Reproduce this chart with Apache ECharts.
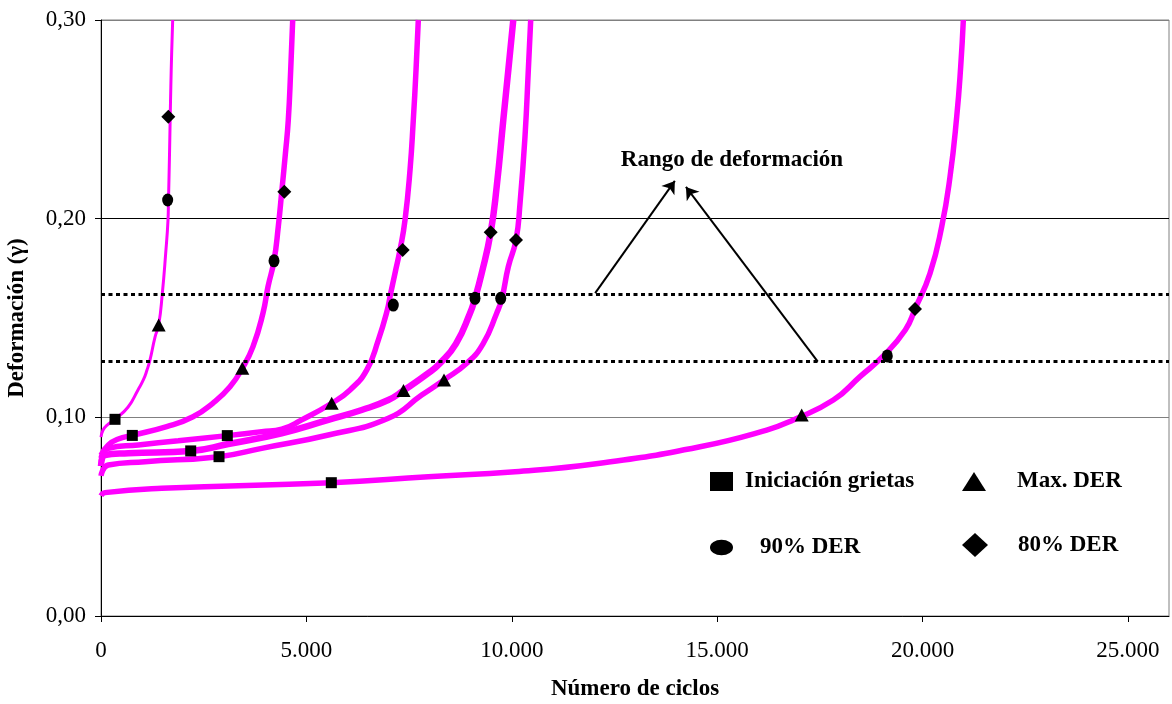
<!DOCTYPE html>
<html>
<head>
<meta charset="utf-8">
<script src="https://cdn.jsdelivr.net/npm/echarts@6/dist/echarts.min.js"></script>
<style>
html,body{margin:0;padding:0;background:#fff;}
#chart{width:1172px;height:704px;}
</style>
</head>
<body>
<div id="chart"></div>
<script>
// ---- data: [número de ciclos, deformación] ----
const curveA = [[0,0.0900],[50,0.0936],[150,0.0961],[340,0.0990],[660,0.1052],[900,0.1138],[1030,0.1188],[1120,0.1238],[1193,0.1289],[1315,0.1404],[1404,0.1465],[1493,0.1624],[1575,0.1826],[1631,0.1993],[1643,0.2094],[1665,0.2295],[1685,0.2513],[1700,0.2664],[1720,0.2832],[1745,0.3000]];
const curveB = [[0,0.0810],[178,0.0861],[421,0.0891],[762,0.0909],[1599,0.0953],[2240,0.1003],[2727,0.1072],[3140,0.1154],[3440,0.1247],[3700,0.1356],[3944,0.1525],[4066,0.1658],[4212,0.1788],[4316,0.1960],[4400,0.2136],[4490,0.2329],[4560,0.2497],[4618,0.2748],[4667,0.3000]];
const curveC = [[0,0.0795],[178,0.0844],[908,0.0861],[1882,0.0882],[3075,0.0908],[3912,0.0928],[4399,0.0940],[4886,0.0987],[5616,0.1071],[6062,0.1138],[6468,0.1238],[6751,0.1389],[6970,0.1540],[7052,0.1624],[7157,0.1725],[7279,0.1842],[7401,0.1993],[7523,0.2245],[7603,0.2497],[7669,0.2748],[7725,0.3000]];
const curveD = [[0,0.0755],[97,0.0810],[665,0.0819],[2184,0.0831],[3099,0.0866],[4399,0.0920],[5534,0.0987],[6347,0.1037],[6994,0.1087],[7364,0.1135],[7968,0.1222],[8253,0.1272],[8640,0.1370],[8983,0.1524],[9105,0.1599],[9268,0.1725],[9487,0.1931],[9633,0.2161],[9794,0.2497],[9916,0.2748],[10037,0.3000]];
const curveE = [[0,0.0705],[178,0.0760],[1071,0.0777],[2873,0.0802],[3912,0.0844],[5534,0.0911],[6994,0.0995],[7807,0.1112],[8350,0.1188],[8903,0.1272],[9300,0.1370],[9633,0.1524],[9760,0.1599],[9916,0.1758],[10103,0.1893],[10201,0.2077],[10322,0.2413],[10403,0.2748],[10461,0.3000]];
const curveF = [[0,0.0605],[97,0.0621],[1478,0.0643],[5607,0.0671],[7968,0.0701],[10079,0.0726],[12148,0.0769],[14583,0.0852],[16206,0.0936],[16854,0.0987],[17828,0.1087],[18478,0.1205],[19045,0.1309],[19580,0.1440],[19817,0.1545],[20182,0.1725],[20467,0.1960],[20669,0.2211],[20832,0.2513],[20929,0.2765],[20993,0.3000]];

const crackInit = [[341,0.0990],[762,0.0909],[3075,0.0908],[2184,0.0831],[2873,0.0802],[5607,0.0671]];
const maxDER    = [[1404,0.1465],[3440,0.1247],[5616,0.1071],[7364,0.1135],[8350,0.1188],[17058,0.1012]];
const der90     = [[1623,0.2094],[4212,0.1788],[7116,0.1565],[9105,0.1599],[9731,0.1599],[19142,0.1309]];
const der80     = [[1639,0.2513],[4462,0.2136],[7345,0.1842],[9487,0.1931],[10103,0.1893],[19817,0.1545]];

const rangeLevels = [0.162, 0.128];
const arrowLines = [[[12030,0.1625],[13970,0.219]], [[17450,0.128],[14240,0.216]]];
const annotationText = 'Rango de deformación';
const annotationPos = [15360, 0.2295];

const xName = 'Número de ciclos';
const yName = 'Deformación (γ)';
const names = ['Iniciación grietas','Max. DER','90% DER','80% DER'];

// ---- styling ----
const FONT = 'Liberation Serif';
const PINK = '#FF00FF';
const ELLIPSE = 'path://M0,10 A10,10 0 1,0 20,10 A10,10 0 1,0 0,10 Z';
const LEGEND_ELLIPSE = 'path://M0,7.5 A11,7.5 0 1,0 22,7.5 A11,7.5 0 1,0 0,7.5 Z';

function fmtX(v){ return String(v).replace(/\B(?=(\d{3})+(?!\d))/g,'.'); }
function fmtY(v){ return v.toFixed(2).replace('.',','); }

function curve(data, width){
  return {type:'line', data:data, showSymbol:false, smooth:0.5, z:2,
    lineStyle:{color:PINK, width:width}, itemStyle:{color:PINK}, silent:true};
}
function markers(name, data, symbol, size){
  return {type:'scatter', name:name, data:data, symbol:symbol, symbolSize:size, z:5,
    itemStyle:{color:'#000', opacity:1}};
}
const legendText = {fontFamily:FONT, fontSize:23, fontWeight:'bold', color:'#000'};
function legendItem(name, icon, left, top, w, h, gap){
  return {data:[name], left:left, top:top, icon:icon, itemWidth:w, itemHeight:h, padding:0,
    selectedMode:false, textStyle:Object.assign({padding:[0,0,0,gap]}, legendText)};
}

const chart = echarts.init(document.getElementById('chart'), null, {renderer:'canvas'});
chart.setOption({
  animation:false,
  backgroundColor:'#fff',
  grid:{left:101, top:20, width:1068, height:596, containLabel:false, outerBoundsMode:'none',
    show:true, borderColor:'#808080', borderWidth:1, backgroundColor:'transparent'},
  xAxis:{type:'value', min:0, max:26000, interval:5000,
    name:xName, nameLocation:'middle', nameGap:62,
    nameTextStyle:{fontFamily:FONT, fontSize:23, fontWeight:'bold', color:'#000'},
    axisLine:{show:true, lineStyle:{color:'#000', width:1}},
    axisTick:{show:true, inside:false, length:6, lineStyle:{color:'#000'}},
    axisLabel:{formatter:fmtX, fontFamily:FONT, fontSize:23, color:'#000', margin:23, showMaxLabel:false},
    splitLine:{show:false}},
  yAxis:{type:'value', min:0, max:0.3, interval:0.1,
    name:yName, nameLocation:'middle', nameGap:72, nameRotate:90,
    nameTextStyle:{fontFamily:FONT, fontSize:23, fontWeight:'bold', color:'#000'},
    axisLine:{show:true, lineStyle:{color:'#000', width:1}},
    axisTick:{show:true, inside:false, length:6, lineStyle:{color:'#000'}},
    axisLabel:{formatter:fmtY, fontFamily:FONT, fontSize:23, color:'#000', margin:15},
    splitLine:{show:true, lineStyle:{color:['#808080','#808080','#000000','#808080'], width:1}}},
  legend:[
    legendItem(names[0], 'rect', 710, 470, 23, 19, 7),
    legendItem(names[1], 'triangle', 962, 470, 24, 19, 26),
    legendItem(names[2], LEGEND_ELLIPSE, 710, 536, 23, 16, 22),
    legendItem(names[3], 'diamond', 962, 533, 26, 24, 25)
  ],
  series:[
    curve(curveA, 3),
    curve(curveB, 5.5),
    curve(curveC, 5.5),
    curve(curveD, 6.5),
    curve(curveE, 5.5),
    curve(curveF, 5.5),
    markers(names[0], crackInit, 'rect', 11),
    markers(names[1], maxDER, 'triangle', [14,13]),
    markers(names[2], der90, ELLIPSE, [11,13]),
    markers(names[3], der80, 'diamond', [14,14]),
    {type:'line', data:[], z:6, silent:true,
      markLine:{silent:true, precision:4, symbol:['none','none'], label:{show:false},
        lineStyle:{color:'#000', width:3, type:[4,3.5]},
        data:rangeLevels.map(v=>({yAxis:v}))}},
    {type:'line', data:[], z:6, silent:true,
      markLine:{silent:true, precision:4, symbol:['none','arrow'], symbolSize:12, label:{show:false},
        lineStyle:{color:'#000', width:2, type:'solid'},
        data:arrowLines.map(a=>[{coord:a[0]},{coord:a[1]}])},
      markPoint:{silent:true, symbol:'rect', symbolSize:1, itemStyle:{color:'rgba(0,0,0,0)'},
        label:{show:true, position:'inside', formatter:annotationText, fontFamily:FONT, fontSize:23, fontWeight:'bold', color:'#000'},
        data:[{coord:annotationPos}]}}
  ]
});
</script>
</body>
</html>
